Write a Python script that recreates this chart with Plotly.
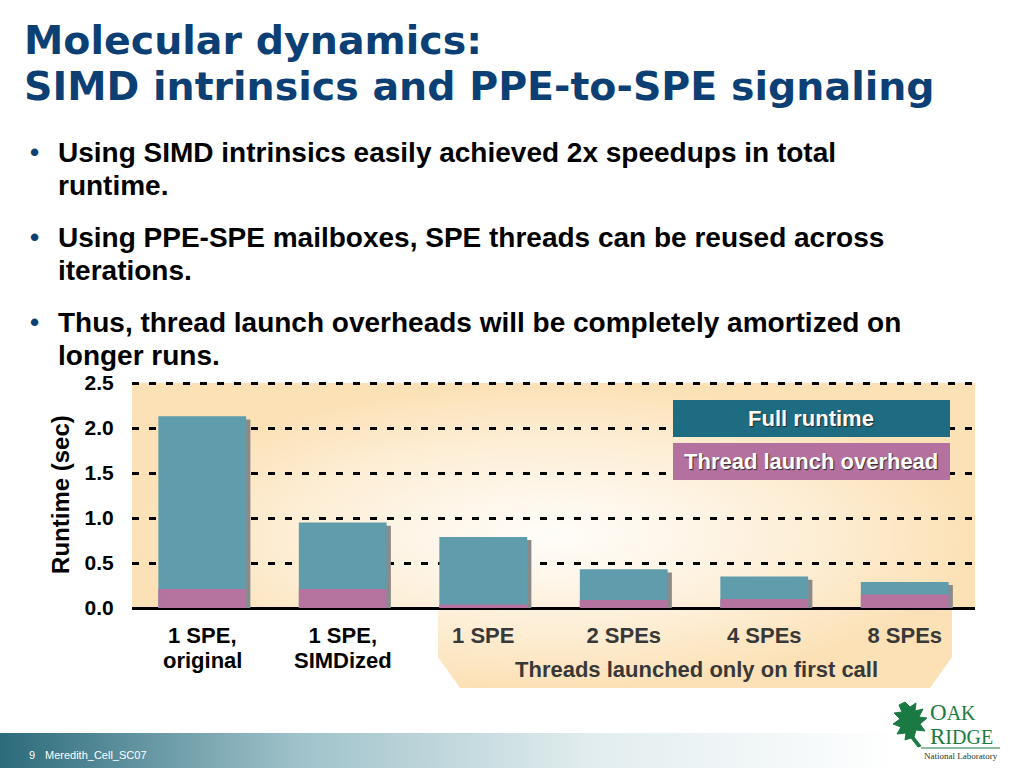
import plotly.graph_objects as go

# ---------------- data ----------------
categories = ["1 SPE, original", "1 SPE, SIMDized", "1 SPE", "2 SPEs", "4 SPEs", "8 SPEs"]
tick_main = ["1 SPE,", "1 SPE,", "1 SPE", "2 SPEs", "4 SPEs", "8 SPEs"]
tick_sub = ["original", "SIMDized", "", "", "", ""]
tick_colors = ["#000000", "#000000", "#383838", "#383838", "#383838", "#383838"]
full_runtime = [2.13, 0.95, 0.79, 0.43, 0.35, 0.29]
launch_overhead = [0.21, 0.21, 0.04, 0.09, 0.10, 0.15]
y_ticks = [0.0, 0.5, 1.0, 1.5, 2.0, 2.5]
y_tick_labels = ["0.0", "0.5", "1.0", "1.5", "2.0", "2.5"]
series_names = ["Full runtime", "Thread launch overhead"]
group_label = "Threads launched only on first call"

title_lines = ["Molecular dynamics:", "SIMD intrinsics and PPE-to-SPE signaling"]
bullets = [
    ["Using SIMD intrinsics easily achieved 2x speedups in total", "runtime."],
    ["Using PPE-SPE mailboxes, SPE threads can be reused across", "iterations."],
    ["Thus, thread launch overheads will be completely amortized on", "longer runs."],
]
footer_text = ["9", "Meredith_Cell_SC07"]

# ---------------- style ----------------
SANS = "Liberation Sans, Arial, sans-serif"
SERIF = "Liberation Serif, Times New Roman, serif"
NAVY = "#0c3f73"
FULL_C = "#5f9dac"
OVER_C = "#b5739f"
LEG_FULL = "#1d6c82"
LEG_OVER = "#b4709f"
GREEN = "#1b7a43"

fig = go.Figure()

# decoration layer (pixel coordinate subplot x/y, drawn first)
fig.add_trace(go.Scatter(
    x=[132, 975, 975, 952, 952, 930, 460, 438, 438, 132, 132],
    y=[383, 383, 608, 608, 657, 688, 688, 657, 608, 608, 383],
    fill="toself", mode="none", hoverinfo="skip",
    fillgradient=dict(type="radial",
                      colorscale=[[0, "#fffdf9"], [0.3, "#fef6e9"], [0.65, "#fdedd3"], [1, "#fce1b6"]]),
    xaxis="x", yaxis="y"))
fig.add_trace(go.Scatter(
    x=[0, 900, 900, 0, 0], y=[733, 733, 768, 768, 733],
    fill="toself", mode="none", hoverinfo="skip",
    fillgradient=dict(type="horizontal",
                      colorscale=[[0, "#2c6b7b"], [0.33, "#9fc2ca"], [0.66, "#e2edef"], [1, "#ffffff"]]),
    xaxis="x", yaxis="y"))

# chart layer
totals = full_runtime
fig.add_trace(go.Bar(x=categories, y=[v - 0.035 for v in totals], width=0.625,
                     offset=-0.3125 + 0.03, marker=dict(color="#8a8a8a", line=dict(width=0)),
                     hoverinfo="skip", xaxis="x2", yaxis="y2"))
fig.add_trace(go.Bar(x=categories, y=full_runtime, name=series_names[0], width=0.625,
                     offset=-0.3125, marker=dict(color=FULL_C, line=dict(width=0)),
                     xaxis="x2", yaxis="y2"))
fig.add_trace(go.Bar(x=categories, y=launch_overhead, name=series_names[1], width=0.625,
                     offset=-0.3125, marker=dict(color=OVER_C, line=dict(width=0)),
                     xaxis="x2", yaxis="y2"))

ticktext = [f'<span style="color:{c}">{t}</span>' for t, c in zip(tick_main, tick_colors)]

fig.update_layout(
    width=1024, height=768, autosize=False, margin=dict(l=0, r=0, t=0, b=0, pad=0),
    paper_bgcolor="white", plot_bgcolor="rgba(0,0,0,0)",
    showlegend=False, barmode="overlay",
    xaxis=dict(domain=[0, 1], range=[0, 1024], visible=False, fixedrange=True, automargin=False),
    yaxis=dict(domain=[0, 1], range=[768, 0], visible=False, fixedrange=True, automargin=False),
    xaxis2=dict(domain=[132 / 1024, 975 / 1024], anchor="y2", type="category", automargin=False,
                range=[-0.5, 5.5], tickmode="array", tickvals=categories, ticktext=ticktext,
                ticks="outside", ticklen=8, tickcolor="rgba(0,0,0,0)",
                showgrid=False, showline=False, zeroline=False,
                tickfont=dict(family=SANS, size=22, color="black", weight="bold")),
    yaxis2=dict(domain=[1 - 608 / 768, 1 - (608 - 2.52 * 90) / 768], anchor="x2", automargin=False,
                range=[0, 2.52], tickmode="array", tickvals=y_ticks, ticktext=y_tick_labels,
                showgrid=True, gridcolor="black", gridwidth=3, griddash="7px,10px",
                zeroline=True, zerolinecolor="black", zerolinewidth=3,
                ticks="outside", ticklen=13, tickcolor="rgba(0,0,0,0)", showline=False,
                tickfont=dict(family=SANS, size=21, color="black", weight="bold"),
                title=dict(text="Runtime (sec)", standoff=8,
                           font=dict(family=SANS, size=24, color="black", weight="bold"))),
)

ann = []
# second line of category labels
for c, s, col in zip(categories, tick_sub, tick_colors):
    if s:
        ann.append(dict(x=c, y=660, xref="x2", yref="y", text=s, showarrow=False,
                        xanchor="center", yanchor="middle",
                        font=dict(family=SANS, size=22, color=col, weight="bold")))
ann.append(dict(x=696, y=669, xref="x", yref="y", text=group_label, showarrow=False,
                xanchor="center", yanchor="middle",
                font=dict(family=SANS, size=22, color="#383838", weight="bold")))

# title
for txt, yc in zip(title_lines, [40, 86]):
    ann.append(dict(x=22, y=yc, xref="x", yref="y", text=txt, showarrow=False,
                    xanchor="left", yanchor="middle",
                    font=dict(family="DejaVu Sans, sans-serif", size=39.5, color=NAVY, weight="bold")))

# bullets
for i, lines in enumerate(bullets):
    y0 = 152 + 85 * i
    ann.append(dict(x=34, y=y0, xref="x", yref="y", text="•", showarrow=False,
                    xanchor="center", yanchor="middle",
                    font=dict(family=SANS, size=26, color=NAVY, weight="bold")))
    for j, line in enumerate(lines):
        ann.append(dict(x=56, y=y0 + 33 * j, xref="x", yref="y", text=line, showarrow=False,
                        xanchor="left", yanchor="middle",
                        font=dict(family=SANS, size=28, color="black", weight="bold")))

# legend boxes
shapes = []
for name, col, (y0, y1) in zip(series_names, [LEG_FULL, LEG_OVER], [(400, 437), (443, 480)]):
    shapes.append(dict(type="rect", xref="x", yref="y", x0=673, x1=950, y0=y0, y1=y1,
                       fillcolor=col, line=dict(width=0), layer="above"))
    ann.append(dict(x=811, y=(y0 + y1) / 2, xref="x", yref="y", text=name, showarrow=False,
                    xanchor="center", yanchor="middle",
                    font=dict(family=SANS, size=22, color="white", weight="bold",
                              shadow="1px 1px 1px #2a2a2a")))

# footer
ann.append(dict(x=27, y=755, xref="x", yref="y", text=footer_text[0], showarrow=False,
                xanchor="left", yanchor="middle", font=dict(family=SANS, size=11, color="white")))
ann.append(dict(x=43, y=755, xref="x", yref="y", text=footer_text[1], showarrow=False,
                xanchor="left", yanchor="middle", font=dict(family=SANS, size=11, color="white")))

# logo
leaf = ("M905,702 L910,707 L916,703 L915,711 L923,709 L919,717 L927,718 L920,724 L925,731 "
        "L916,730 L914,737 L921,746 L918,747 L911,738 L905,740 L906,733 L897,734 L901,727 "
        "L893,724 L900,719 L894,713 L902,712 L899,705 Z")
shapes.append(dict(type="path", xref="x", yref="y", path=leaf, fillcolor=GREEN,
                   line=dict(color=GREEN, width=1), layer="above"))
shapes.append(dict(type="line", xref="x", yref="y", x0=921, x1=1000, y0=748, y1=748,
                   line=dict(color=GREEN, width=1), layer="above"))
ann.append(dict(x=928, y=712, xref="x", yref="y", showarrow=False, xanchor="left", yanchor="middle",
                text='<span style="font-size:23px">O</span>AK',
                font=dict(family=SERIF, size=20, color=GREEN)))
ann.append(dict(x=928, y=736, xref="x", yref="y", showarrow=False, xanchor="left", yanchor="middle",
                text='<span style="font-size:23px">R</span>IDGE',
                font=dict(family=SERIF, size=20, color=GREEN)))
ann.append(dict(x=961, y=756, xref="x", yref="y", showarrow=False, xanchor="center", yanchor="middle",
                text="National Laboratory", font=dict(family=SERIF, size=9, color="#1d3b2a")))

fig.update_layout(annotations=ann, shapes=shapes)
fig.write_html("out.html", config={"displayModeBar": False},
               post_script="document.body.style.margin='0px';document.body.style.overflow='hidden';")
